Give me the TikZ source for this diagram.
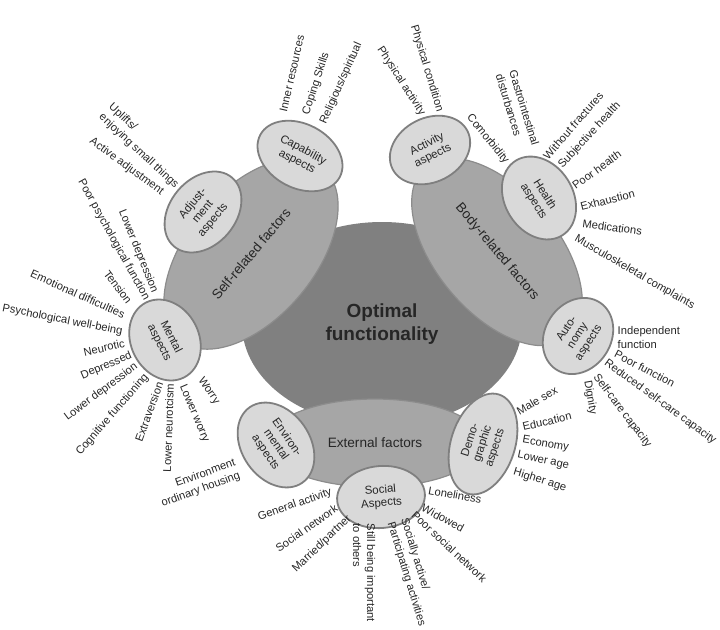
\documentclass[tikz,border=0pt]{standalone}
\usepackage{fontspec}
\setmainfont{Liberation Sans}
\usepackage{tikz}
\usetikzlibrary{shapes.geometric}
\definecolor{ofcore}{HTML}{808080}
\definecolor{offactor}{HTML}{A6A6A6}
\definecolor{ofaspect}{HTML}{D9D9D9}
\definecolor{ofline}{HTML}{7F7F7F}
\definecolor{oftext}{HTML}{262626}

\begin{document}
\begin{tikzpicture}[
    x=1pt, y=-1pt,
    core/.style={ellipse, fill=ofcore, inner sep=0pt, align=center, text=oftext,
                 font=\fontsize{19}{23}\selectfont\bfseries},
    factor/.style={ellipse, draw=ofline!90, fill=offactor, line width=1.2pt,
                   inner sep=0pt, align=center, text=oftext,
                   font=\fontsize{13.6}{16}\selectfont},
    aspect/.style={ellipse, draw=ofline, fill=ofaspect, line width=1.8pt,
                   inner sep=0pt, align=center, text=oftext,
                   font=\fontsize{11.5}{13}\selectfont},
    leaf/.style={inner sep=0.5pt, text=oftext, font=\fontsize{11.2}{14}\selectfont},
]
\useasboundingbox (0,0) rectangle (720,629);

% centre and the three groups of factors
\node[core, minimum width=280pt, minimum height=204pt] (optimal) at (382,324) {Optimal\\functionality};
\node[factor, minimum width=224pt, minimum height=128pt, rotate=50]  (self)     at (251,254) {Self-related factors};
\node[factor, minimum width=222pt, minimum height=122pt, rotate=-50] (body)     at (497,252) {Body-related factors};
\node[factor, minimum width=216pt, minimum height=88pt]              (external) at (375,443) {External factors};

% aspects
\node[aspect, minimum width=90pt, minimum height=64pt, rotate=-28]  (capability) at (300,156) {Capability\\aspects};
\node[aspect, minimum width=90pt, minimum height=66pt, rotate=50]   (adjustment) at (203,212) {Adjust-\\ment\\aspects};
\node[aspect, minimum width=84pt, minimum height=68pt, rotate=-63]  (mental)     at (165,340) {Mental\\aspects};
\node[aspect, minimum width=92pt, minimum height=68pt, rotate=-55]  (environ)    at (276,445) {Environ-\\mental\\aspects};
\node[aspect, minimum width=88pt, minimum height=62pt, rotate=5]    (social)     at (381,497) {Social\\Aspects};
\node[aspect, minimum width=104pt, minimum height=64pt, rotate=72]  (demo)       at (483,444) {Demo-\\graphic\\aspects};
\node[aspect, minimum width=80pt, minimum height=66pt, rotate=57]   (autonomy)   at (578,336) {Auto-\\nomy\\aspects};
\node[aspect, minimum width=88pt, minimum height=68pt, rotate=-58]  (health)     at (539,198) {Health\\aspects};
\node[aspect, minimum width=84pt, minimum height=64pt, rotate=27]   (activity)   at (430,150) {Activity\\aspects};

% capability
\node[leaf, rotate=77, anchor=west] (inner)     at (283,112) {Inner resources};
\node[leaf, rotate=72, anchor=west] (coping)    at (306,115) {Coping Skills};
\node[leaf, rotate=66, anchor=west] (religious) at (323,124) {Religious/spiritual};

% adjustment
\node[leaf, rotate=-43, anchor=east, align=left] (uplifts)   at (182,182) {Uplifts/\\enjoying small things};
\node[leaf, rotate=-36, anchor=east]             (activeadj) at (163,193) {Active adjustment};

% mental
\node[leaf, rotate=-61, anchor=east] (poorpsy)    at (147,300) {Poor psychological function};
\node[leaf, rotate=-68, anchor=east] (lowdepa)    at (155,293) {Lower depression};
\node[leaf, rotate=-53, anchor=east] (tension)    at (130,303) {Tension};
\node[leaf, rotate=-24, anchor=east] (emotional)  at (125,315) {Emotional difficulties};
\node[leaf, rotate=-11, anchor=east] (wellbeing)  at (123,332) {Psychological well-being};
\node[leaf, rotate=13, anchor=east]  (neurotic)   at (125,343) {Neurotic};
\node[leaf, rotate=23, anchor=east]  (depressed)  at (132,355) {Depressed};
\node[leaf, rotate=37, anchor=east]  (lowdepb)    at (137,365) {Lower depression};
\node[leaf, rotate=49, anchor=east]  (cognitive)  at (147,375) {Cognitive functioning};
\node[leaf, rotate=70, anchor=east]  (extraver)   at (160,382) {Extraversion};
\node[leaf, rotate=88, anchor=east]  (lowneuro)   at (170,383) {Lower neurotcism};
\node[leaf, rotate=-67, anchor=west] (lowworry)   at (182,385) {Lower worry};
\node[leaf, rotate=-56, anchor=west] (worry)      at (200,378) {Worry};

% environmental
\node[leaf, rotate=20, anchor=east, align=right] (housing) at (238,469) {Environment\\ordinary housing};

% social
\node[leaf, rotate=19, anchor=east]  (general)   at (332,492) {General activity};
\node[leaf, rotate=35, anchor=east]  (network)   at (337,507) {Social network};
\node[leaf, rotate=44, anchor=east]  (married)   at (350,517) {Married/partner};
\node[leaf, rotate=-90, anchor=west, align=left] (important) at (364,523) {Still being important\\to others};
\node[leaf, rotate=-73, anchor=west, align=left] (sociallyact) at (397,520) {Socially active/\\Participating activities};
\node[leaf, rotate=-43, anchor=west] (poornet)   at (413,513) {Poor social network};
\node[leaf, rotate=-28, anchor=west] (widowed)   at (422,507) {Widowed};
\node[leaf, rotate=-10, anchor=west] (lonely)    at (428,490) {Loneliness};

% demographic
\node[leaf, rotate=30, anchor=west]  (male)      at (517,412) {Male sex};
\node[leaf, rotate=13, anchor=west]  (education) at (522,427) {Education};
\node[leaf, rotate=-10, anchor=west] (economy)   at (522,440) {Economy};
\node[leaf, rotate=-12, anchor=west] (lowage)    at (517,455) {Lower age};
\node[leaf, rotate=-17, anchor=west] (highage)   at (513,472) {Higher age};

% autonomy
\node[leaf, anchor=west, align=left] (independent) at (617,337) {Independent\\function};
\node[leaf, rotate=-28, anchor=west] (poorfunc)  at (615,353) {Poor function};
\node[leaf, rotate=-36, anchor=west] (reduced)   at (605,362) {Reduced self-care capacity};
\node[leaf, rotate=-53, anchor=west] (selfcare)  at (595,375) {Self-care capacity};
\node[leaf, rotate=-80, anchor=west] (dignity)   at (587,380) {Dignity};

% health
\node[leaf, rotate=-51, anchor=east] (comorb)    at (507,163) {Comorbidity};
\node[leaf, rotate=-73, anchor=west, align=left] (gastro) at (506,72) {Gastrointestinal\\disturbances};
\node[leaf, rotate=49, anchor=west]  (fractures) at (545,158) {Without fractures};
\node[leaf, rotate=47, anchor=west]  (subjective) at (560,167) {Subjective health};
\node[leaf, rotate=36, anchor=west]  (poorhealth) at (573,187) {Poor health};
\node[leaf, rotate=14, anchor=west]  (exhaust)   at (580,207) {Exhaustion};
\node[leaf, rotate=-8, anchor=west]  (medic)     at (582,223) {Medications};
\node[leaf, rotate=-30, anchor=west] (musculo)   at (575,238) {Musculoskeletal complaints};

% activity
\node[leaf, rotate=-57, anchor=east] (physact)   at (423,115) {Physical activity};
\node[leaf, rotate=-73, anchor=east] (physcond)  at (440,112) {Physical condition};
\end{tikzpicture}
\end{document}
